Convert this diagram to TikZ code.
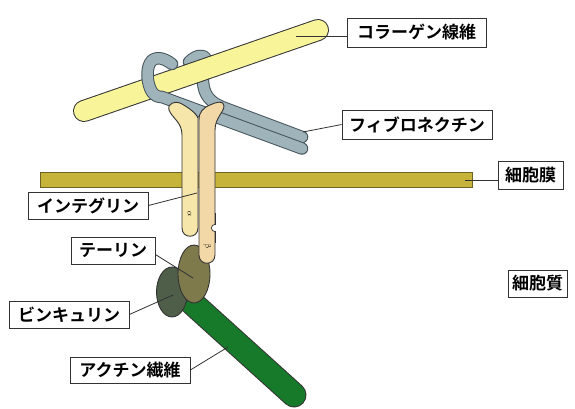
\documentclass[tikz,border=0pt]{standalone}
\usepackage{fontspec}
\newfontfamily\jpb{Noto Sans CJK JP Bold}
\definecolor{edge}{HTML}{333333}
\definecolor{collagen}{HTML}{F8F49A}
\definecolor{fibro}{HTML}{9FB3BB}
\definecolor{fibroedge}{HTML}{46555B}
\definecolor{alphac}{HTML}{F6E6AA}
\definecolor{betac}{HTML}{F2D8A6}
\definecolor{membrane}{HTML}{C6B33A}
\definecolor{membraneedge}{HTML}{6F6220}
\definecolor{talinc}{HTML}{7F7A4C}
\definecolor{vinculinc}{HTML}{4F5E48}
\definecolor{actinc}{HTML}{177A2B}
\tikzset{
  lbl/.style={draw=edge, line width=0.8pt, fill=white, inner sep=0pt,
    font=\jpb\fontsize{17}{17}\selectfont},
  leader/.style={draw=edge, line width=0.8pt},
  rodout/.style={line width=#1, line cap=round, line join=round, draw=edge},
  fnout/.style={line width=12.5pt, line cap=round, line join=round, draw=fibroedge},
  fnin/.style={line width=10.5pt, line cap=round, line join=round, draw=fibro},
  part/.style={draw=edge, line width=0.9pt},
}
\begin{document}
\begin{tikzpicture}[x=1pt, y=-1pt]
\useasboundingbox (0,0) rectangle (575,409);

% cell membrane
\draw[fill=membrane, draw=membraneedge, line width=1pt] (40,172) rectangle (472,187);

% fibronectin strand hooked over the top of the collagen fibre (behind it)
\def\fnB{(189,62) .. controls (195,56) and (203,53) .. (206,59)
  .. controls (209,65) and (202,72) .. (203,82)
  .. controls (204,95) and (210,102) .. (222,107) -- (302,137)}
\draw[fnout] \fnB;
\draw[fnin] \fnB;

% collagen fibre
\draw[rodout=22pt] (84,111) -- (318,30);
\draw[line width=20pt, line cap=round, draw=collagen] (84,111) -- (318,30);
\coordinate (colpt) at (296,36);

% fibronectin strand wrapped round the front of the collagen fibre
\def\fnA{(172,64) .. controls (163,57) and (154,56) .. (150,63)
  .. controls (146,70) and (147,84) .. (152,92)
  .. controls (155,96) and (158,97) .. (162,97) -- (302,148.5)}
\draw[fnout] \fnA;
\draw[fnin] \fnA;
\coordinate (fnpt) at (303,132);

% actin filament
\draw[rodout=25pt] (190,301) -- (294,395);
\draw[line width=23pt, line cap=round, draw=actinc] (190,301) -- (294,395);
\coordinate (actpt) at (228,347);

% vinculin and talin
\draw[part, fill=vinculinc] (172,292) ellipse [x radius=15.5, y radius=25];
\coordinate (vinpt) at (173,295);
\draw[part, fill=talinc] (194,274) ellipse [x radius=16, y radius=29];
\coordinate (talpt) at (193,278);

% integrin alpha subunit
\draw[part, fill=alphac] (182,228) -- (182,135)
  .. controls (182,122) and (172,118) .. (169,110)
  .. controls (167,103) and (176,101) .. (180,103)
  .. controls (188,107) and (196,113) .. (198,118)
  -- (198,228) .. controls (198,239) and (182,239) .. (182,228) -- cycle;
% integrin beta subunit
\draw[part, fill=betac] (199,255) -- (199,120)
  .. controls (199,112) and (203,108) .. (210,105)
  .. controls (216,102) and (224,100) .. (224,106)
  .. controls (224,112) and (215,118) .. (215,130)
  -- (215,255) .. controls (215,266) and (199,266) .. (199,255) -- cycle;
\draw[line width=1.6pt, draw=edge] (215.3,213) -- (215.3,243);
\draw[fill=white, draw=edge, line width=0.7pt] (215,228) circle (3.6);
\fill[white] (215.9,223) rectangle (221,233);
\node[rotate=-80, font=\fontsize{8}{8}\selectfont] (alph) at (189.5,214) {$\alpha$};
\node[rotate=-70, font=\fontsize{8}{8}\selectfont] (bet) at (207.5,246) {$\beta$};
\coordinate (itgpt) at (197,193);
\coordinate (mempt) at (465,180);

% labels
\node[lbl, minimum width=139pt, minimum height=29pt] (col) at (416.5,32.5) {コラーゲン線維};
\node[lbl, minimum width=150pt, minimum height=29pt] (fn) at (417,124.5) {フィブロネクチン};
\node[lbl, minimum width=65pt, minimum height=28pt] (mem) at (530.5,175) {細胞膜};
\node[lbl, minimum width=59pt, minimum height=27pt] (cyt) at (537.5,283.5) {細胞質};
\node[lbl, minimum width=120pt, minimum height=27pt] (itg) at (88,205.5) {インテグリン};
\node[lbl, minimum width=84pt, minimum height=27pt] (tal) at (113,250.5) {テーリン};
\node[lbl, minimum width=120pt, minimum height=27pt] (vin) at (69,314.5) {ビンキュリン};
\node[lbl, minimum width=120pt, minimum height=26pt] (act) at (130,370) {アクチン繊維};

% leader lines
\draw[leader] (colpt) -- (col.west |- colpt);
\draw[leader] (fnpt) -- (fn.west);
\draw[leader] (mempt) -- (mem.west |- mempt);
\draw[leader] (itgpt) -- (itg.east);
\draw[leader] (talpt) -- ([yshift=-4pt]tal.east);
\draw[leader] (vinpt) -- (vin.east);
\draw[leader] (actpt) -- (act.east);
\end{tikzpicture}
\end{document}
